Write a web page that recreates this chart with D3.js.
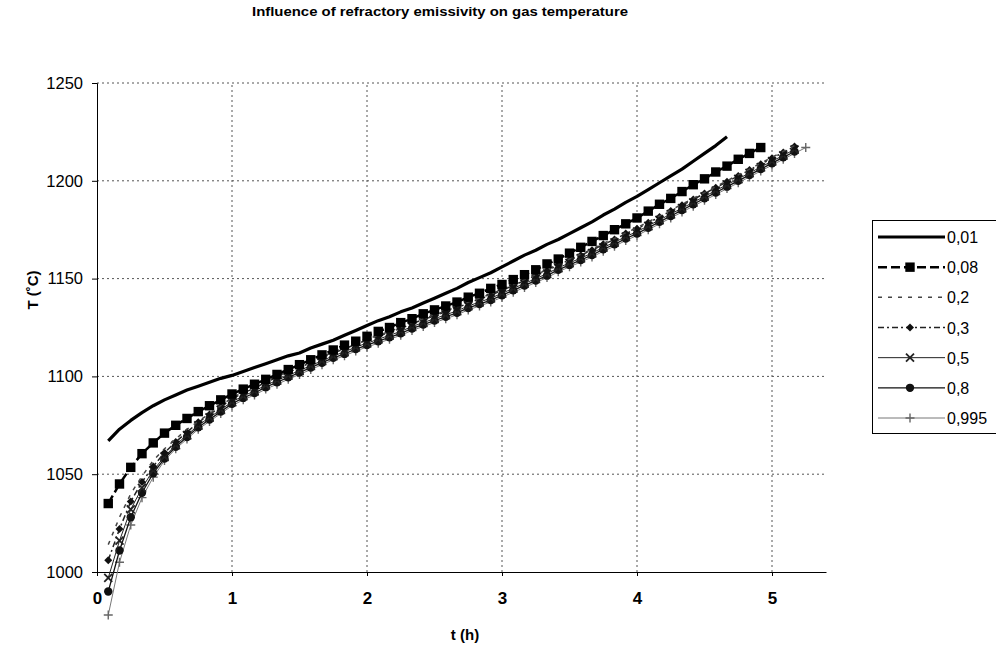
<!DOCTYPE html>
<html><head><meta charset="utf-8">
<script src="https://cdn.jsdelivr.net/npm/d3@7"></script>
<style>
html,body{margin:0;padding:0;background:#fff;}
svg{display:block;font-family:"Liberation Sans",Arial,sans-serif;}
</style></head>
<body><svg id="chart" width="996" height="645"></svg>
<script>
// time in minutes (5-minute steps)
const minutes = [5,10,15,20,25,30,35,40,45,50,55,60,65,70,75,80,85,90,95,100,105,110,115,120,125,130,135,140,145,150,155,160,165,170,175,180,185,190,195,200,205,210,215,220,225,230,235,240,245,250,255,260,265,270,275,280,285,290,295,300,305,310,315];

const labels = ["0,01","0,08","0,2","0,3","0,5","0,8","0,995"];

const s001 = [1067,1073,1077.5,1081.5,1085,1088,1090.5,1093,1095,1097,1099,1100.5,1102.5,1104.5,1106.5,1108.5,1110.5,1112,1114.5,1116.5,1118.5,1121,1123.5,1126,1128.5,1130.5,1133,1135,1137.5,1140,1142.5,1145,1148,1150.5,1153,1156,1159,1162,1164.5,1167.5,1170,1173,1176,1179,1182.5,1185.5,1189,1192,1195.5,1199,1202.5,1206,1210,1214,1218,1222.5];

const s008 = [1035,1045,1053.5,1060.5,1066,1071,1075,1078.5,1082,1085,1088,1091,1093.5,1096,1098.5,1101,1103.5,1106,1108.5,1111,1113.5,1116,1118,1120.5,1123,1125,1127.5,1129.5,1132,1134,1136,1138,1140.5,1142.5,1145,1147,1149.5,1152,1154.5,1157.5,1160,1163,1166,1169,1172,1175,1178,1181,1184.5,1188,1191,1194.5,1198,1201,1204.5,1207.5,1211,1214,1217];

const s02 = [1014,1028,1040,1049,1057,1063,1068,1073,1077,1081,1085,1089,1092,1094.5,1097.5,1100,1102.5,1105,1107.5,1110,1112.5,1114.5,1117,1119,1121,1123,1125,1127.5,1129.5,1131.5,1133.5,1135.5,1138,1140,1142,1144.5,1147,1149.5,1152,1154.5,1157.5,1160,1162.5,1165,1168,1170.5,1173.5,1176,1179,1182,1185,1188,1191,1194,1197,1200,1203,1206,1209,1212,1215,1218];

const s03 = [1006,1022,1036,1046,1054,1061,1066.5,1071.5,1076.5,1080.5,1084.5,1088.5,1091.5,1094,1097,1099.5,1102,1104.5,1107,1109.5,1112,1114,1116.5,1118.5,1120.5,1122.5,1124.5,1127,1129,1131,1133,1135,1137.5,1139.5,1141.5,1144,1146.5,1149,1151.5,1154,1157,1159.5,1162,1164.5,1167.5,1170,1173,1175.5,1178.5,1181.5,1184.5,1187.5,1190.5,1193.5,1196.5,1199.5,1202.5,1205.5,1208.5,1211.5,1214.5,1217.5];

const s05 = [997,1016,1032,1043,1052,1059,1065,1070,1075,1079,1083,1087,1090,1092.5,1095.5,1098,1100.5,1103,1105.5,1108,1110.5,1112.5,1115,1117,1119,1121,1123,1125.5,1127.5,1129.5,1131.5,1133.5,1136,1138,1140,1142.5,1145,1147.5,1150,1152.5,1155.5,1158,1160.5,1163,1166,1168.5,1171.5,1174,1177,1180,1183,1186,1189,1192,1195,1198,1201,1204,1207,1210,1213,1216];

const s08 = [990,1011,1028,1040.5,1050.5,1058,1064,1069,1074,1078,1082,1086,1089,1091.5,1094.5,1097,1099.5,1102,1104.5,1107,1109.5,1111.5,1114,1116,1118,1120,1122,1124.5,1126.5,1128.5,1130.5,1132.5,1135,1137,1139,1141.5,1144,1146.5,1149,1151.5,1154.5,1157,1159.5,1162,1165,1167.5,1170.5,1173,1176,1179,1182,1185,1188,1191,1194,1197,1200,1203,1206,1209,1212,1215];

const s0995 = [978,1005,1024,1038,1048.5,1057,1063,1068,1073,1077,1081,1085,1088,1090.5,1093.5,1096,1098.5,1101,1103.5,1106,1108.5,1110.5,1113,1115,1117,1119,1121,1123.5,1125.5,1127.5,1129.5,1131.5,1134,1136,1138,1140.5,1143,1145.5,1148,1150.5,1153.5,1156,1158.5,1161,1164,1166.5,1169.5,1172,1175,1178,1181,1184,1187,1190,1193,1196,1199,1202,1205,1208,1211,1214,1217];

const xTicks = [0,1,2,3,4,5];
const yTicks = [1000,1050,1100,1150,1200,1250];

const seriesValues = [s001,s008,s02,s03,s05,s08,s0995];
const styles = [
  {stroke:"#000", width:3.2, dash:null, marker:"none"},
  {stroke:"#000", width:2.5, dash:"9,4", marker:"square"},
  {stroke:"#444", width:1.5, dash:"4,6", marker:"none"},
  {stroke:"#222", width:1.5, dash:"6,3,2,3", marker:"diamond"},
  {stroke:"#222", width:1, dash:null, marker:"cross"},
  {stroke:"#111", width:1.3, dash:null, marker:"circle"},
  {stroke:"#777", width:1, dash:null, marker:"plus"}
];

const svg = d3.select("#chart");
const x = d3.scaleLinear().domain([0,5.4]).range([97,826]);
const y = d3.scaleLinear().domain([1000,1250]).range([572,83]);

// title
svg.append("text").attr("x",440).attr("y",16).attr("text-anchor","middle")
  .attr("font-weight","bold").attr("font-size",12)
  .attr("textLength",376).attr("lengthAdjust","spacingAndGlyphs")
  .text("Influence of refractory emissivity on gas temperature");

// grid
const grid = svg.append("g");
grid.selectAll(".hg").data(yTicks.filter(d=>d>1000)).enter().append("line")
  .attr("x1",x(0)).attr("x2",x(5.4)).attr("y1",d=>y(d)).attr("y2",d=>y(d))
  .attr("stroke","#555").attr("stroke-width",1).attr("stroke-dasharray","2,3");
grid.selectAll(".vg").data(xTicks.filter(d=>d>0)).enter().append("line")
  .attr("x1",d=>x(d)).attr("x2",d=>x(d)).attr("y1",y(1000)).attr("y2",y(1250))
  .attr("stroke","#555").attr("stroke-width",1).attr("stroke-dasharray","2,3");

// axes
const yAxis = svg.append("g").attr("transform",`translate(${x(0)},0)`)
  .call(d3.axisLeft(y).tickValues(yTicks).tickSize(5).tickPadding(9).tickFormat(d3.format("d")));
yAxis.select(".domain").attr("stroke","#000");
yAxis.selectAll("text").attr("font-size",16.5).attr("font-family","Liberation Sans, Arial").attr("fill","#000");

const xAxis = svg.append("g").attr("transform",`translate(0,${y(1000)})`)
  .call(d3.axisBottom(x).tickValues(xTicks).tickSize(4).tickPadding(16).tickFormat(d3.format("d")).tickSizeOuter(0));
xAxis.select(".domain").attr("stroke","#000");
xAxis.selectAll("text").attr("font-size",17).attr("font-weight","bold").attr("font-family","Liberation Sans, Arial").attr("fill","#000");

// axis titles
svg.append("text").attr("transform","translate(38,290) rotate(-90)").attr("text-anchor","middle")
  .attr("font-weight","bold").attr("font-size",15).text("T (˚C)");
svg.append("text").attr("x",465).attr("y",640).attr("text-anchor","middle")
  .attr("font-weight","bold").attr("font-size",15).text("t (h)");

function drawMarker(g, type, cx, cy, color){
  if(type==="square"){
    g.append("rect").attr("x",cx-4.7).attr("y",cy-4.7).attr("width",9.4).attr("height",9.4).attr("fill","#000");
  } else if(type==="diamond"){
    g.append("path").attr("d",`M${cx},${cy-4}L${cx+4},${cy}L${cx},${cy+4}L${cx-4},${cy}Z`).attr("fill","#111");
  } else if(type==="cross"){
    g.append("path").attr("d",`M${cx-4},${cy-4}L${cx+4},${cy+4}M${cx-4},${cy+4}L${cx+4},${cy-4}`).attr("stroke","#222").attr("stroke-width",1.8);
  } else if(type==="circle"){
    g.append("circle").attr("cx",cx).attr("cy",cy).attr("r",4.2).attr("fill","#111");
  } else if(type==="plus"){
    g.append("path").attr("d",`M${cx-4.5},${cy}L${cx+4.5},${cy}M${cx},${cy-4.5}L${cx},${cy+4.5}`).attr("stroke","#666").attr("stroke-width",1.4);
  }
}

const line = d3.line().x(d=>x(d[0]/60)).y(d=>y(d[1]));
const plot = svg.append("g");
for(let i=seriesValues.length-1;i>=0;i--){
  const vals = seriesValues[i];
  const pts = vals.map((v,j)=>[minutes[j],v]);
  const st = styles[i];
  const g = plot.append("g");
  g.append("path").attr("d",line(pts)).attr("fill","none").attr("stroke",st.stroke)
    .attr("stroke-width",st.width).attr("stroke-dasharray",st.dash).attr("stroke-linejoin","round");
  pts.forEach(p=>drawMarker(g, st.marker, x(p[0]/60), y(p[1]), st.stroke));
}

// legend
const lg = svg.append("g");
lg.append("rect").attr("x",872.5).attr("y",220.5).attr("width",140).attr("height",213)
  .attr("fill","#fff").attr("stroke","#000").attr("stroke-width",1);
const ly = d3.scalePoint().domain(labels).range([237,418]);
labels.forEach((lab,i)=>{
  const st = styles[i];
  const yy = ly(lab);
  lg.append("line").attr("x1",878).attr("x2",945).attr("y1",yy).attr("y2",yy)
    .attr("stroke",st.stroke).attr("stroke-width",st.width).attr("stroke-dasharray",st.dash);
  drawMarker(lg, st.marker, 910, yy, st.stroke);
  lg.append("text").attr("x",947).attr("y",yy+6).attr("font-size",16).text(lab);
});
</script></body></html>
